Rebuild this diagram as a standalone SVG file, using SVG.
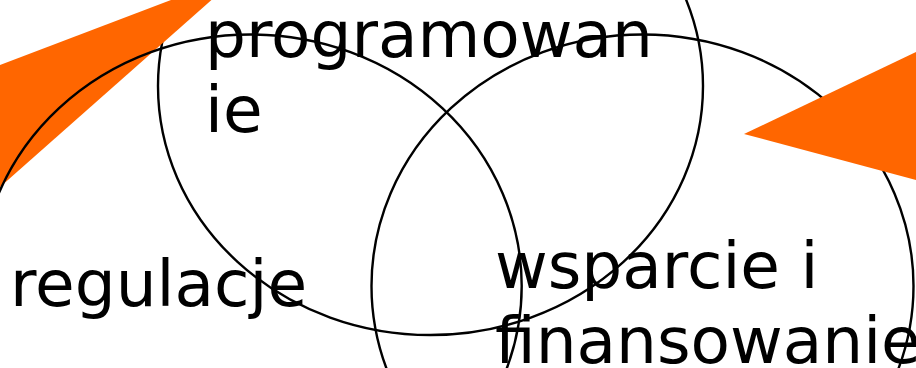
<svg xmlns="http://www.w3.org/2000/svg" width="916" height="368" viewBox="0 0 916 368">
<style>
.c{fill:none;stroke:#000;stroke-width:2.4}
.t{font-family:"DejaVu Sans",sans-serif;font-size:64.5px;fill:#000}
.o{fill:#FF6600}
</style>
<rect width="916" height="368" fill="#fff"/>
<g id="connectors"></g>
<g id="node-top"><ellipse class="c" cx="430.5" cy="86" rx="272.5" ry="249"/></g>
<g id="node-right"><ellipse class="c" cx="642.5" cy="286" rx="271" ry="251.5"/></g>
<g id="deco"><polygon class="o" points="0,65 242,-27 0,187"/><polygon class="o" points="744,134 916,52 916,180"/></g>
<g id="node-left"><ellipse class="c" cx="250.7" cy="286" rx="271" ry="251.5"/></g>
<g id="labels">
<text class="t" x="205" y="57">programowan</text>
<text class="t" x="205" y="132">ie</text>
<text class="t" x="10" y="306">regulacje</text>
<text class="t" x="495" y="288">wsparcie i</text>
<text class="t" x="495" y="363">finansowanie</text>
</g>
</svg>
